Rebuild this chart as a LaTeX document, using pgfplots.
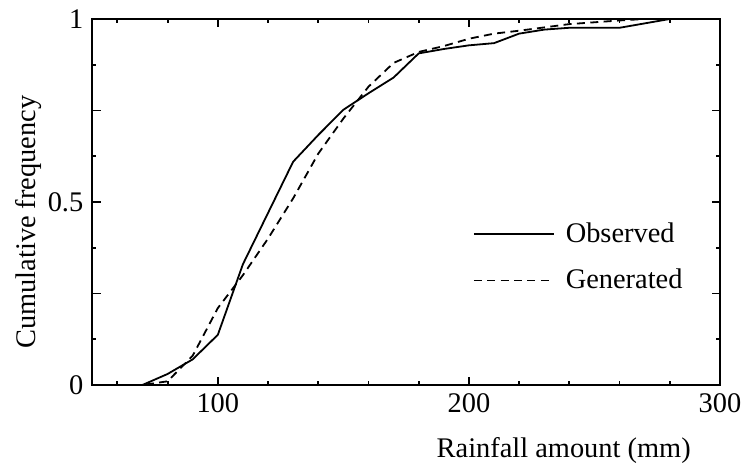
\documentclass[border=0pt]{standalone}
\usepackage{pgfplots}
\pgfplotsset{compat=1.18}
\usepackage{fontspec}
\setmainfont{Liberation Serif}

% Cumulative frequency of rainfall amount: observed vs generated series
\pgfplotstableread{
x     y
50    0
70    0
80    0.030
90    0.070
100   0.137
110   0.330
120   0.470
130   0.610
140   0.683
150   0.752
160   0.797
170   0.840
180   0.906
190   0.918
200   0.928
210   0.934
220   0.960
230   0.971
240   0.976
260   0.976
280   1.000
300   1.000
}\observed

\pgfplotstableread{
x     y
50    0
70    0
80    0.010
90    0.080
100   0.210
110   0.300
120   0.400
130   0.510
140   0.632
150   0.728
160   0.815
170   0.880
180   0.910
190   0.926
200   0.946
210   0.960
220   0.968
230   0.977
240   0.986
250   0.991
260   0.996
270   1.000
300   1.000
}\generated

\begin{document}
\begin{tikzpicture}
\useasboundingbox (-46.15bp,-40bp) rectangle (326.4bp,192.5bp);
\begin{axis}[
  scale only axis,
  width=313.9bp, height=183bp,
  xmin=50, xmax=300, ymin=0, ymax=1,
  axis line style={line width=1.1bp},
  font=\fontsize{14.2bp}{17bp}\selectfont,
  /pgf/number format/assume math mode=true,
  xtick={100,200,300},
  minor xtick={60,80,120,140,160,180,220,240,260,280},
  ytick={0,0.25,0.5,0.75,1},
  yticklabels={0,,0.5,,1},
  minor ytick={0.125,0.375,0.625,0.875},
  tick align=inside,
  major tick length=4.2bp,
  minor tick length=2.1bp,
  every tick/.style={black, line width=0.9bp},
  xticklabel style={yshift=-1bp},
  yticklabel style={xshift=-1bp},
  xlabel={Rainfall amount (mm)},
  xlabel style={at={(rel axis cs:0.751,0)}, anchor=north, yshift=-23bp},
  ylabel={Cumulative frequency},
  ylabel style={at={(ticklabel cs:0.445)}, yshift=-4bp},
  clip=false,
  legend style={draw=none, fill=none, inner sep=0pt, outer sep=0pt,
    at={(rel axis cs:0.6065,0.455)}, anchor=north west,
    row sep=8bp,
    nodes={inner xsep=5.5bp},
    font=\fontsize{14.2bp}{17bp}\selectfont},
  legend cell align=left,
  legend image code/.code={\draw[#1] (0bp,0bp) -- (40bp,0bp);},
]
\addplot[black, line width=0.9bp] table[x=x, y=y] {\observed};
\addlegendentry{Observed}
\addplot[black, line width=0.9bp, dash pattern=on 4bp off 2.7bp] table[x=x, y=y] {\generated};
\addlegendentry{Generated}
\end{axis}
\end{tikzpicture}
\end{document}
